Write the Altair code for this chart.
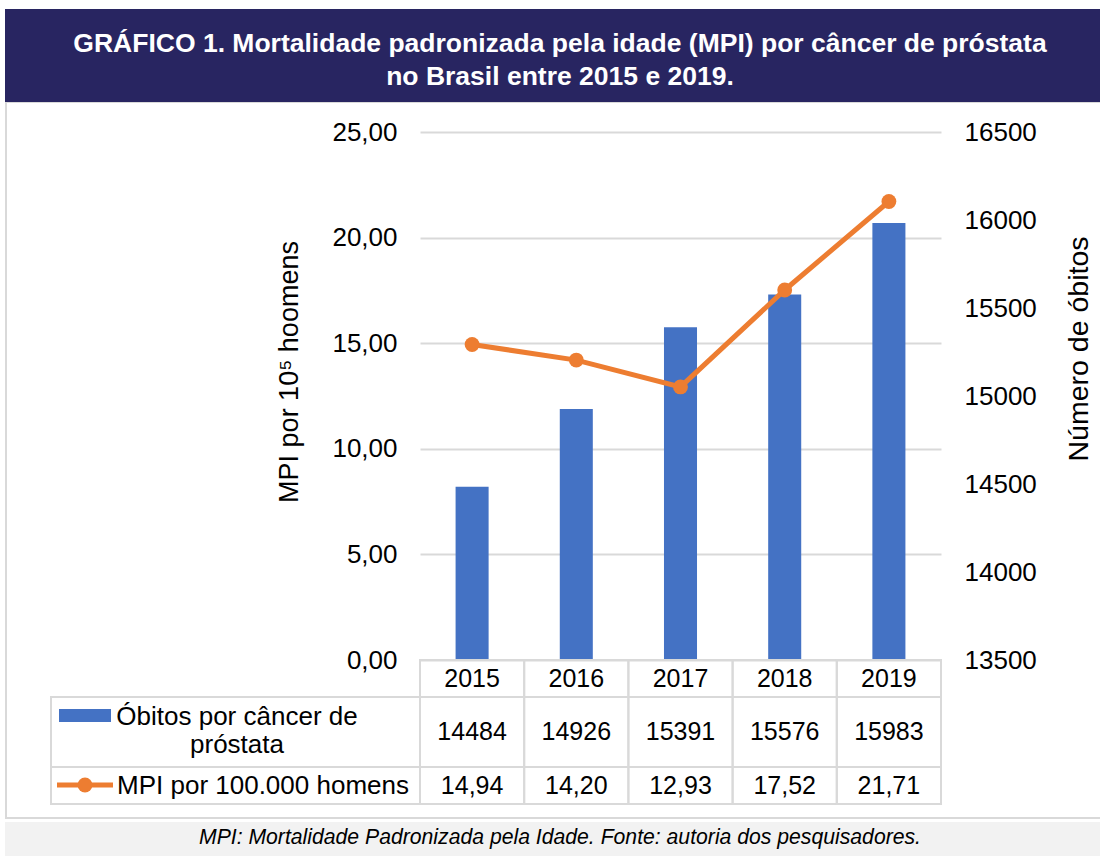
import altair as alt
import pandas as pd

# ---- data ----
anos = ["2015", "2016", "2017", "2018", "2019"]
obitos = [14484, 14926, 15391, 15576, 15983]
mpi = [14.94, 14.20, 12.93, 17.52, 21.71]
mpi_ticks = [0, 5, 10, 15, 20, 25]
obitos_ticks = [13500, 14000, 14500, 15000, 15500, 16000, 16500]

titulo_l1 = "GRÁFICO 1. Mortalidade padronizada pela idade (MPI) por câncer de próstata"
titulo_l2 = "no Brasil entre 2015 e 2019."
eixo_esq = "MPI por 10⁵ hoomens"
eixo_dir = "Número de óbitos"
serie_barras_1 = "Óbitos por câncer de"
serie_barras_2 = "próstata"
serie_linha = "MPI por 100.000 homens"
nota = "MPI: Mortalidade Padronizada pela Idade. Fonte: autoria dos pesquisadores."

FONT = "Liberation Sans"
BLUE = "#4472C4"
ORANGE = "#ED7D31"
GRID = "#D9D9D9"
NAVY = "#282561"

df = pd.DataFrame({
    "ano": anos,
    "obitos": obitos,
    "mpi": mpi,
    "mpi_txt": [f"{v:.2f}".replace(".", ",") for v in mpi],
})
one = pd.DataFrame({"k": [0]})

W, H = 521, 528
PAD = {"left": 420, "top": 132, "right": 1100 - 420 - W, "bottom": 856 - 132 - H}

xenc = alt.X("ano:N", axis=None, scale=alt.Scale(paddingInner=0, paddingOuter=0))

# ---- decorations ----
frame = alt.Chart(one).mark_rect(fillOpacity=0, stroke=GRID, strokeWidth=2).encode(
    x=alt.value(-414), x2=alt.value(700), y=alt.value(-30), y2=alt.value(686))
foot_band = alt.Chart(one).mark_rect(color="#F2F2F2").encode(
    x=alt.value(-415), x2=alt.value(700), y=alt.value(690), y2=alt.value(730))
banner = alt.Chart(one).mark_rect(color=NAVY).encode(
    x=alt.value(-415), x2=alt.value(700), y=alt.value(-123), y2=alt.value(-30))
t1 = alt.Chart(one).mark_text(font=FONT, fontSize=26.5, fontWeight="bold", color="white",
                              align="center", baseline="alphabetic").encode(
    x=alt.value(140), y=alt.value(-80), text=alt.value(titulo_l1))
t2 = alt.Chart(one).mark_text(font=FONT, fontSize=26.5, fontWeight="bold", color="white",
                              align="center", baseline="alphabetic").encode(
    x=alt.value(140), y=alt.value(-47), text=alt.value(titulo_l2))
foot = alt.Chart(one).mark_text(font=FONT, fontSize=21.2, fontStyle="italic", color="black",
                                align="center", baseline="middle").encode(
    x=alt.value(140), y=alt.value(706), text=alt.value(nota))

# ---- data marks ----
bars = alt.Chart(df).mark_bar(color=BLUE, width={"band": 0.317}).encode(
    x=xenc,
    y=alt.Y("obitos:Q",
            scale=alt.Scale(domain=[13500, 16500], nice=False, zero=False),
            axis=alt.Axis(orient="right", values=obitos_ticks, format="d", grid=False,
                          ticks=False, domain=False, labelPadding=23, labelFontSize=26,
                          labelFont=FONT, labelColor="black", title=None)),
    y2=alt.datum(13500),
)

linha = alt.Chart(df).mark_line(
    color=ORANGE, strokeWidth=5,
    point=alt.OverlayMarkDef(filled=True, size=220, color=ORANGE, opacity=1),
).encode(
    x=xenc,
    y=alt.Y("mpi:Q",
            scale=alt.Scale(domain=[0, 25], nice=False),
            axis=alt.Axis(orient="left", values=mpi_ticks,
                          labelExpr="replace(format(datum.value, '.2f'), '.', ',')",
                          grid=True, gridColor=GRID, gridWidth=2, ticks=False, domain=False,
                          labelPadding=23, labelFontSize=26, labelFont=FONT,
                          labelColor="black", title=None)),
)

# ---- data table ----
cell = dict(fillOpacity=0, stroke=GRID, strokeWidth=2)
hdr_cells = alt.Chart(df).mark_rect(**cell).encode(x=xenc, y=alt.value(528), y2=alt.value(565))
r2_cells = alt.Chart(df).mark_rect(**cell).encode(x=xenc, y=alt.value(565), y2=alt.value(635))
r3_cells = alt.Chart(df).mark_rect(**cell).encode(x=xenc, y=alt.value(635), y2=alt.value(672))
l2_cell = alt.Chart(one).mark_rect(**cell).encode(
    x=alt.value(-369), x2=alt.value(0), y=alt.value(565), y2=alt.value(635))
l3_cell = alt.Chart(one).mark_rect(**cell).encode(
    x=alt.value(-369), x2=alt.value(0), y=alt.value(635), y2=alt.value(672))

txt = dict(font=FONT, fontSize=25, color="black", align="center", baseline="middle")
t_anos = alt.Chart(df).mark_text(**txt).encode(x=xenc, y=alt.value(547), text="ano:N")
t_obitos = alt.Chart(df).mark_text(**txt).encode(
    x=xenc, y=alt.value(600), text=alt.Text("obitos:Q", format="d"))
t_mpi = alt.Chart(df).mark_text(**txt).encode(x=xenc, y=alt.value(654), text="mpi_txt:N")

leg_txt = dict(font=FONT, fontSize=26, color="black", align="center", baseline="middle")
swatch = alt.Chart(one).mark_rect(color=BLUE).encode(
    x=alt.value(-361), x2=alt.value(-309), y=alt.value(577), y2=alt.value(590))
leg_line = alt.Chart(one).mark_rule(color=ORANGE, strokeWidth=5).encode(
    x=alt.value(-363), x2=alt.value(-307), y=alt.value(653))
leg_pt = alt.Chart(one).mark_point(filled=True, size=220, color=ORANGE, opacity=1).encode(
    x=alt.value(-335), y=alt.value(653))
leg_t1a = alt.Chart(one).mark_text(**leg_txt).encode(
    x=alt.value(-183), y=alt.value(585), text=alt.value(serie_barras_1))
leg_t1b = alt.Chart(one).mark_text(**leg_txt).encode(
    x=alt.value(-183), y=alt.value(613), text=alt.value(serie_barras_2))
leg_t2 = alt.Chart(one).mark_text(**leg_txt).encode(
    x=alt.value(-157), y=alt.value(654), text=alt.value(serie_linha))

# ---- axis titles ----
ax_l = alt.Chart(one).mark_text(font=FONT, fontSize=27, color="black", angle=270,
                                align="center", baseline="middle").encode(
    x=alt.value(-130), y=alt.value(240), text=alt.value(eixo_esq))
ax_r = alt.Chart(one).mark_text(font=FONT, fontSize=28.5, color="black", angle=270,
                                align="center", baseline="middle").encode(
    x=alt.value(659), y=alt.value(217), text=alt.value(eixo_dir))

chart = alt.layer(
    frame, foot_band, banner, t1, t2, foot,
    bars, linha,
    hdr_cells, r2_cells, r3_cells, l2_cell, l3_cell,
    t_anos, t_obitos, t_mpi,
    swatch, leg_line, leg_pt, leg_t1a, leg_t1b, leg_t2,
    ax_l, ax_r,
).resolve_scale(y="independent").properties(
    width=W, height=H, autosize="none", padding=PAD, background="white"
).configure(font=FONT).configure_view(stroke=None, strokeWidth=0)

chart.save("out.html", embed_options={"renderer": "svg", "actions": False})
